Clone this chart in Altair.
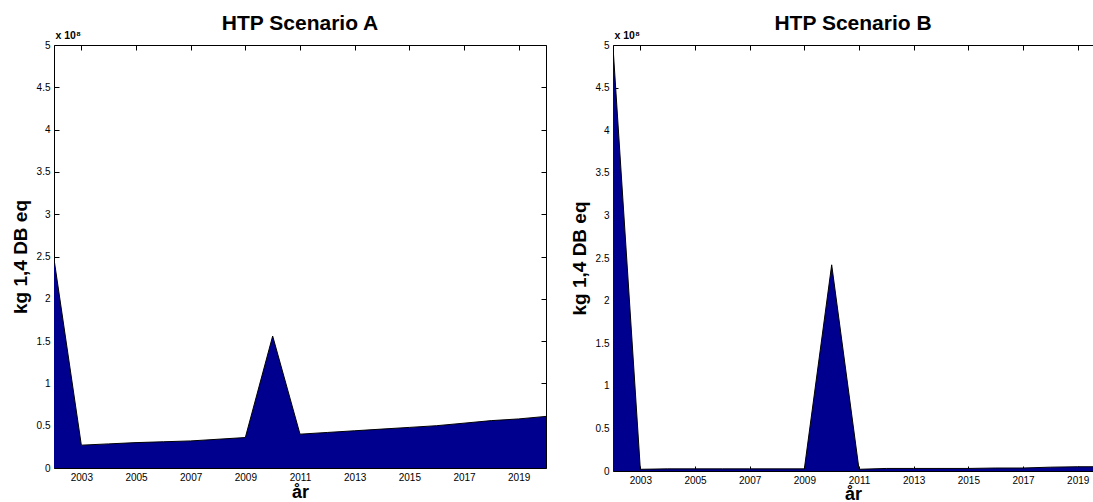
import altair as alt
import pandas as pd

years = list(range(2002, 2021))
# kg 1,4 DB eq (values read in units of 1e8)
scen_a = [2.47, 0.27, 0.285, 0.30, 0.31, 0.32, 0.34, 0.36, 1.56, 0.40,
          0.42, 0.44, 0.46, 0.48, 0.50, 0.53, 0.56, 0.58, 0.61]
scen_b = [4.98, 0.02, 0.025, 0.025, 0.025, 0.025, 0.025, 0.025, 2.42, 0.02,
          0.03, 0.03, 0.03, 0.03, 0.035, 0.035, 0.045, 0.05, 0.05]
titles = ["HTP Scenario A", "HTP Scenario B"]
x_ticks = [2003, 2005, 2007, 2009, 2011, 2013, 2015, 2017, 2019]
y_ticks = [i * 0.5e8 for i in range(11)]

FONT = "Liberation Sans"
FILL = "#00008F"


def panel(vals, title, width, height, xmax, right_border, xt_pad):
    df = pd.DataFrame({"year": years, "value": [v * 1e8 for v in vals]})
    xs = alt.Scale(domain=[2002, xmax], nice=False, zero=False)
    ys = alt.Scale(domain=[0, 5e8], nice=False)
    base = alt.Chart(df)

    area = base.mark_area(color=FILL, clip=True).encode(
        x=alt.X("year:Q", scale=xs, axis=alt.Axis(
            values=x_ticks, format="d", ticks=False, grid=False,
            domain=True, domainColor="black", domainWidth=1,
            labelFont=FONT, labelFontSize=10, labelColor="black",
            labelPadding=4, labelFlush=False, labelOverlap=False,
            title="år", titleFont=FONT, titleFontSize=18,
            titleFontWeight="bold", titleColor="black", titlePadding=xt_pad)),
        y=alt.Y("value:Q", scale=ys, axis=alt.Axis(
            values=y_ticks, labelExpr="datum.value / 1e8", ticks=False,
            grid=False, domain=True, domainColor="black", domainWidth=1,
            labelFont=FONT, labelFontSize=10, labelColor="black",
            labelPadding=4, labelFlush=False, labelOverlap=False,
            title="kg 1,4 DB eq", titleFont=FONT, titleFontSize=19,
            titleFontWeight="bold", titleColor="black", titlePadding=6)),
    )

    edge = base.mark_line(color="black", strokeWidth=1, clip=True).encode(
        x=alt.X("year:Q", scale=xs, axis=alt.Axis(
            orient="top", offset=-height, values=x_ticks, labels=False,
            domain=False, ticks=True, tickSize=5, tickColor="black",
            grid=False, title=None)),
        y=alt.Y("value:Q", scale=ys, axis=alt.Axis(
            orient="right", offset=-width, values=y_ticks, labels=False,
            domain=False, ticks=True, tickSize=5, tickColor="black",
            grid=False, title="x 10⁸", titleAngle=0, titleX=1, titleY=-5,
            titleAlign="left", titleBaseline="bottom", titleFont=FONT,
            titleFontSize=10.5, titleFontWeight="bold", titleColor="black")),
    )

    top_axis = alt.Axis(
        orient="bottom", offset=-height, values=x_ticks, labels=False,
        domain=True, domainColor="black", ticks=True, tickSize=5,
        tickColor="black", grid=False, title=None)
    if right_border:
        right_axis = alt.Axis(
            orient="left", offset=-width, values=y_ticks, labels=False,
            domain=True, domainColor="black", ticks=True, tickSize=5,
            tickColor="black", grid=False, title=None)
    else:
        right_axis = None
    ghost = base.mark_line(opacity=0, clip=True).encode(
        x=alt.X("year:Q", scale=xs, axis=top_axis),
        y=alt.Y("value:Q", scale=ys, axis=right_axis),
    )

    return alt.layer(area, edge, ghost).resolve_axis(
        x="independent", y="independent"
    ).properties(
        width=width, height=height,
        title=alt.TitleParams(title, font=FONT, fontSize=21,
                              fontWeight="bold", color="black", offset=-4),
    )


pa = panel(scen_a, titles[0], 492, 423, 2020, True, 1)
pb = panel(scen_b, titles[1], 480, 426, 2019.56, False, 0)

chart = alt.hconcat(pa, pb, spacing=67, bounds="flush").properties(
    padding={"left": 11, "top": 13, "right": 0, "bottom": 0},
    background="white",
).configure_view(stroke=None)

chart.save("out.html", embed_options={"renderer": "svg", "actions": False})
